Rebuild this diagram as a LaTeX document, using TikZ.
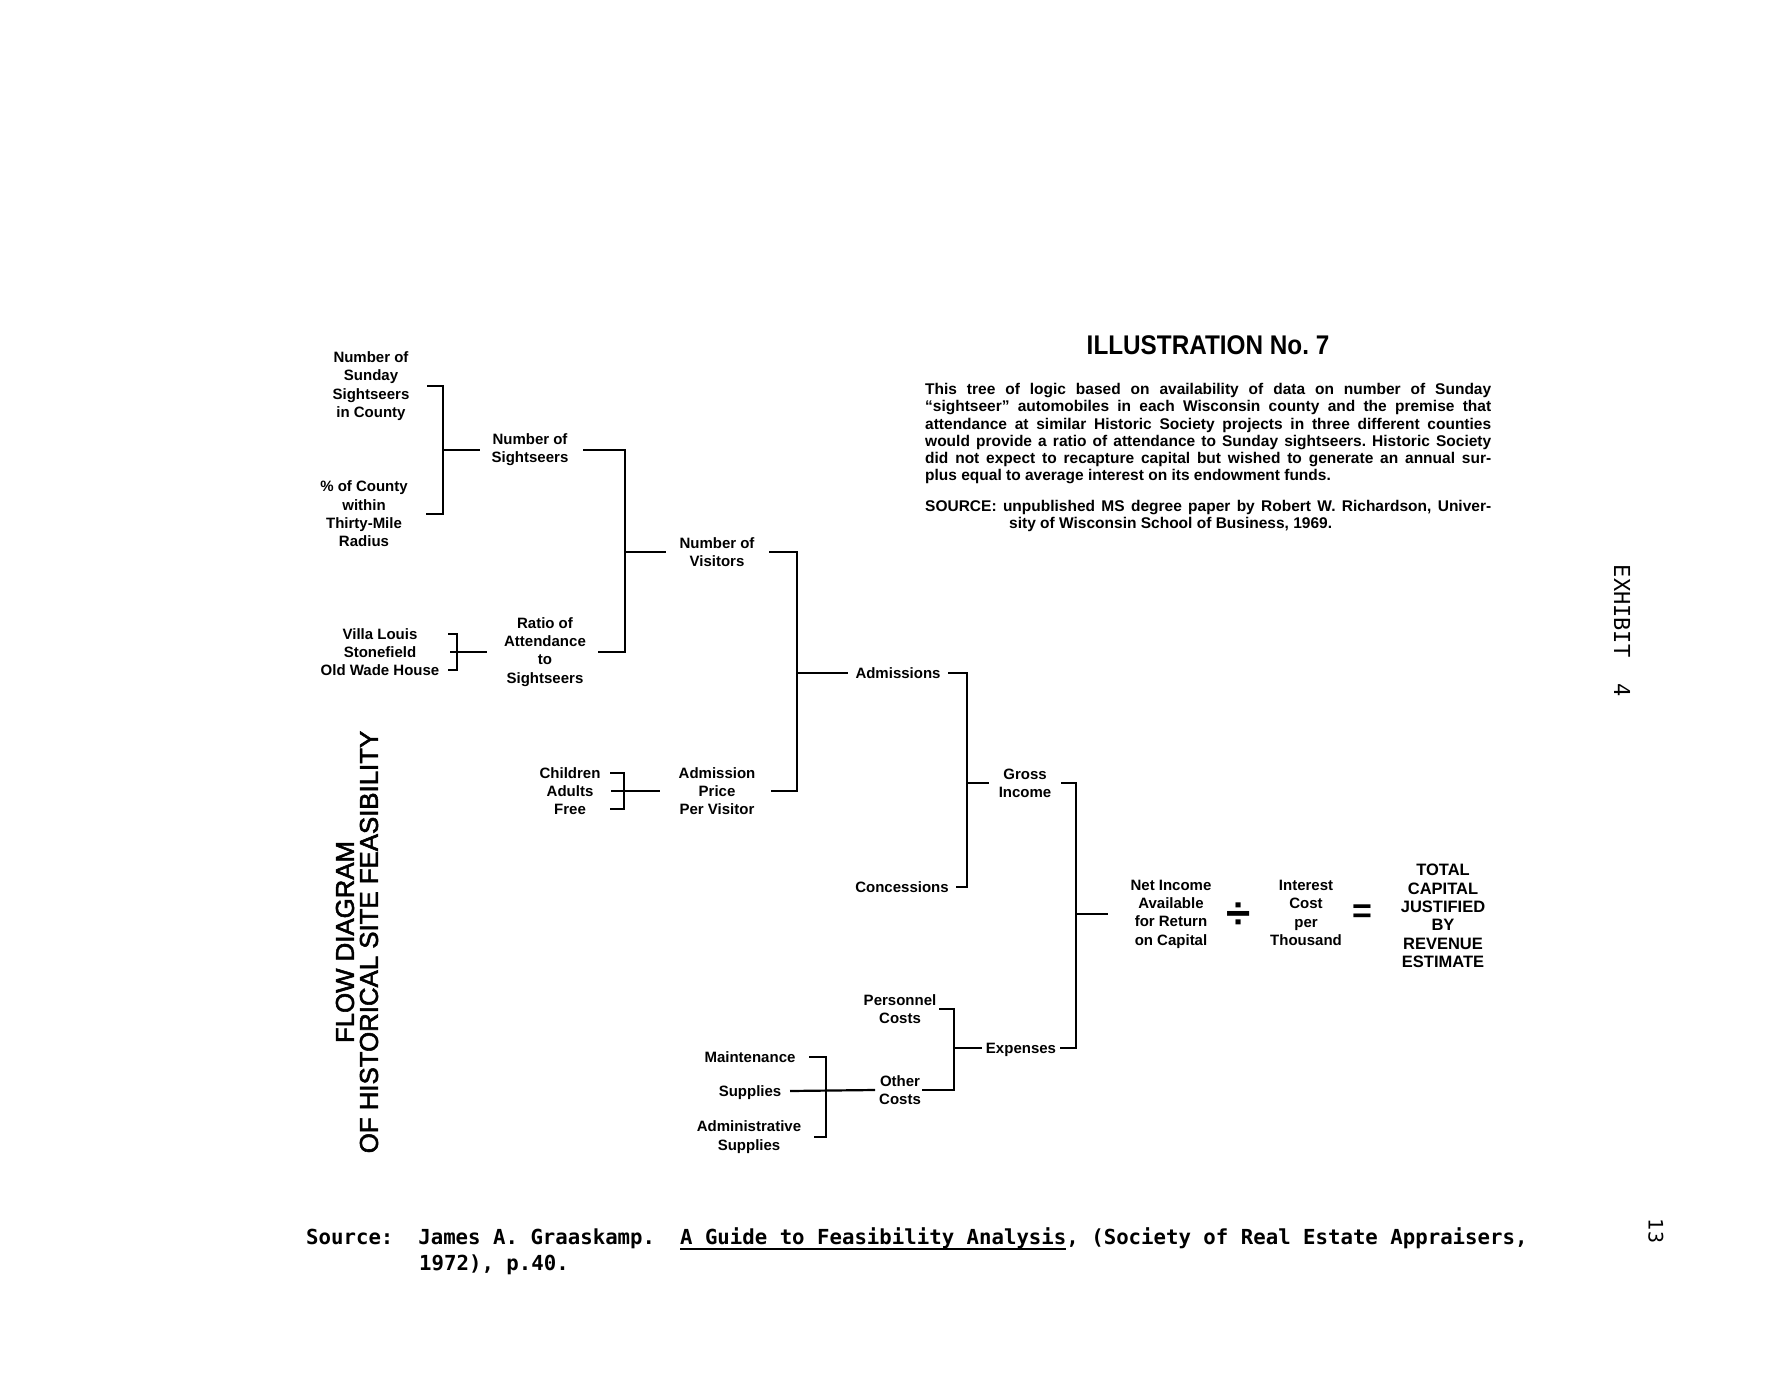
\documentclass[tikz,border=0pt]{standalone}
\usepackage{fontspec}
\usepackage{graphicx}
\setmainfont{Liberation Sans}
\newfontfamily\monofont{DejaVu Sans Mono}
\newfontfamily\sidefont[FakeBold=2.2]{Liberation Sans}
\usetikzlibrary{calc}
\newsavebox\ulbox
\newcommand\ulx[1]{\sbox\ulbox{#1}\rlap{\rule[-5.5pt]{\wd\ulbox}{1.6pt}}\usebox\ulbox}
\begin{document}
\begin{tikzpicture}[x=1pt,y=-1pt,
  lbl/.style={font=\fontsize{15}{18.3}\selectfont\bfseries, align=center, inner sep=0pt},
  one/.style={lbl, text height=12pt, text depth=2pt},
  big/.style={font=\fontsize{16.5}{18.4}\selectfont\bfseries, align=center, inner sep=0pt},
  conn/.style={line width=2.2pt, line cap=butt, line join=miter},
  para/.style={font=\fontsize{15.5}{17.3}\selectfont\bfseries, align=justify, text width=566pt, inner sep=0pt},
  fnt/.style={font=\fontsize{20.7}{26}\monofont\bfseries\frenchspacing, inner sep=0pt},
  side/.style={font=\fontsize{25.8}{30}\sidefont, inner sep=0pt, rotate=90},
  pnum/.style={font=\fontsize{22}{26}\monofont, inner sep=0pt, rotate=-90}]
\path[fill=white] (0,0) rectangle (1791,1380);
\useasboundingbox (0,0) rectangle (1791,1380);

% vertical bracket positions
\coordinate (X1) at (443,0);
\coordinate (X2) at (625,0);
\coordinate (Xv) at (457,0);
\coordinate (Xc) at (624,0);
\coordinate (X3) at (797,0);
\coordinate (X4) at (967,0);
\coordinate (X5) at (1076,0);
\coordinate (X6) at (954,0);
\coordinate (X7) at (826,0);

% labels
\node[lbl] (nsc) at (371,386) {Number of\\Sunday\\Sightseers\\in County};
\node[lbl] (pcw) at (364,514) {\%~of County\\within\\Thirty-Mile\\Radius};
\node[lbl] (ns) at (530,450) {Number of\\Sightseers};
\node[one] (vl) at (380,634) {Villa Louis};
\node[one] (sf) at (380,652) {Stonefield};
\node[one] (owh) at (380,670) {Old Wade House};
\node[lbl] (rat) at (545,652) {Ratio of\\Attendance\\to\\Sightseers};
\node[lbl] (nv) at (717,552) {Number of\\Visitors};
\node[one] (ch) at (570,773) {Children};
\node[one] (ad) at (570,791) {Adults};
\node[one] (fr) at (570,809) {Free};
\node[lbl] (ap) at (717,791) {Admission\\Price\\Per Visitor};
\node[one] (adm) at (898,673) {Admissions};
\node[one] (con) at (902,887) {Concessions};
\node[lbl] (gi) at (1025,783) {Gross\\Income};
\node[lbl] (pc) at (900,1009) {Personnel\\Costs};
\node[lbl] (oc) at (900,1090) {Other\\Costs};
\node[one] (exp) at (1021,1048) {Expenses};
\node[one] (mnt) at (750,1057) {Maintenance};
\node[one] (sup) at (750,1091) {Supplies};
\node[lbl] (adms) at (749,1137) {Administrative\\Supplies};
\node[lbl] (ni) at (1171,914) {Net Income\\Available\\for Return\\on Capital};
\node[font=\fontsize{44}{48}\selectfont\bfseries, inner sep=0pt] (dv) at (1239,916) {÷};
\node[lbl] (ii) at (1306,913) {Interest\\Cost\\per\\Thousand};
\node[font=\fontsize{34}{40}\selectfont\bfseries, inner sep=0pt] (eq) at (1362,914) {=};
\node[big] (tc) at (1443,916) {TOTAL\\CAPITAL\\JUSTIFIED\\BY\\REVENUE\\ESTIMATE};

% brackets
\draw[conn] ($(nsc -| X1)+(-16,0)$) -- (nsc -| X1) -- (pcw -| X1) -- ($(pcw -| X1)+(-17,0)$);
\draw[conn] (ns -| X1) -- ($(ns -| X1)+(37,0)$);

\draw[conn] ($(ns -| X2)+(-42,0)$) -- (ns -| X2) -- (rat -| X2) -- ($(rat -| X2)+(-27,0)$);
\draw[conn] (nv -| X2) -- ($(nv -| X2)+(41,0)$);

\draw[conn] ($(vl -| Xv)+(-9,0)$) -- (vl -| Xv) -- (owh -| Xv) -- ($(owh -| Xv)+(-9,0)$);
\draw[conn] ($(sf -| Xv)+(-7,0)$) -- ($(rat -| Xv)+(30,0)$);

\draw[conn] ($(ch -| Xc)+(-14,0)$) -- (ch -| Xc) -- (fr -| Xc) -- ($(fr -| Xc)+(-14,0)$);
\draw[conn] ($(ad -| Xc)+(-13,0)$) -- ($(ap -| Xc)+(36,0)$);

\draw[conn] ($(nv -| X3)+(-28,0)$) -- (nv -| X3) -- (ap -| X3) -- ($(ap -| X3)+(-26,0)$);
\draw[conn] (adm -| X3) -- ($(adm -| X3)+(51,0)$);

\draw[conn] ($(adm -| X4)+(-19,0)$) -- (adm -| X4) -- (con -| X4) -- ($(con -| X4)+(-11,0)$);
\draw[conn] (gi -| X4) -- ($(gi -| X4)+(22,0)$);

\draw[conn] ($(gi -| X5)+(-15,0)$) -- (gi -| X5) -- (exp -| X5) -- ($(exp -| X5)+(-16,0)$);
\draw[conn] (ni -| X5) -- ($(ni -| X5)+(32,0)$);

\draw[conn] ($(pc -| X6)+(-15,0)$) -- (pc -| X6) -- (oc -| X6) -- ($(oc -| X6)+(-32,0)$);
\draw[conn] (exp -| X6) -- ($(exp -| X6)+(28,0)$);

\draw[conn] ($(mnt -| X7)+(-17,0)$) -- (mnt -| X7) -- (adms -| X7) -- ($(adms -| X7)+(-12,0)$);
\draw[conn] ($(sup -| X7)+(-36,0)$) -- ($(oc -| X7)+(49,0)$);

% title and note
\node[font=\fontsize{27}{30}\selectfont\bfseries, inner sep=0pt] (title) at (1208,345) {\scalebox{0.9}[1]{ILLUSTRATION No.~7}};
\node[para, anchor=north west] (para) at (925,383) {%
\parindent=0pt\hyphenpenalty=10000\frenchspacing
This tree of logic based on availability of data on number of Sunday\linebreak
“sightseer” automobiles in each Wisconsin county and the premise that\linebreak
attendance at similar Historic Society projects in three different counties\linebreak
would provide a ratio of attendance to Sunday sightseers. Historic Society\linebreak
did not expect to recapture capital but wished to generate an annual sur-\linebreak
plus equal to average interest on its endowment funds.\par
\vspace{13pt}
\hangindent=84pt\hangafter=1
SOURCE: unpublished MS degree paper by Robert W. Richardson, Univer-\linebreak
sity of Wisconsin School of Business, 1969.\par};

% side titles
\node[side] (fd1) at (345,942) {FLOW DIAGRAM};
\node[side] (fd2) at (369,942) {OF HISTORICAL SITE FEASIBILITY};
\node[pnum] (exh) at (1622,631) {EXHIBIT\ \ 4};
\node[pnum, font=\fontsize{20}{24}\monofont] (pg) at (1656,1231) {13};

% source line
\node[fnt, anchor=base west] (src) at (306,1244) {Source:\ \ James A. Graaskamp.\ \ \ulx{A Guide to Feasibility Analysis}, (Society of Real Estate Appraisers,};
\node[fnt, anchor=base west] (src2) at (419,1270) {1972), p.40.};
\end{tikzpicture}
\end{document}
